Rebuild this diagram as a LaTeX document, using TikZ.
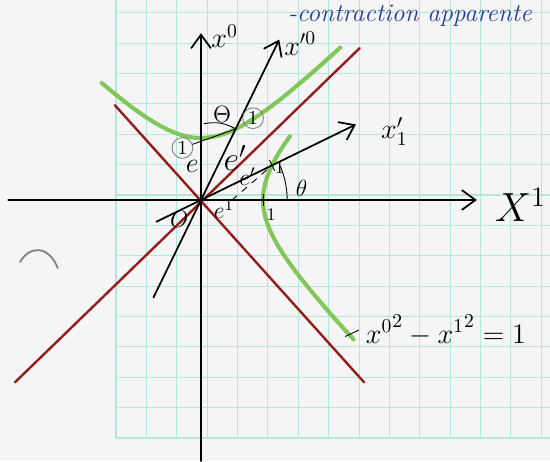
\documentclass[tikz,border=0pt]{standalone}
\usetikzlibrary{arrows.meta}
\definecolor{paper}{RGB}{245,245,247}
\definecolor{gridmint}{RGB}{180,232,214}
\definecolor{conered}{RGB}{150,28,28}
\definecolor{hypgreen}{RGB}{112,192,64}
\definecolor{inkblue}{RGB}{38,58,150}
\begin{document}
\begin{tikzpicture}[line join=round, line cap=round, >={Straight Barb[length=2.2mm,width=3.2mm]}, thick]
	\tikzset{every node/.style={scale=0.9},
		cone/.style={conered, line width=1.1pt},
		hyp/.style={hypgreen, line width=1.9pt, opacity=0.85},
		ring/.style={circle, draw=gray, thin, inner sep=0.8pt}}
	\useasboundingbox[fill=paper] (-3.242,-4.21) rectangle (5.629,3.226);
	% papier quadrille
	\draw[gridmint, line width=0.5pt, shift={(-1.371,-3.839)}, step=0.49] (0,0) grid (7,7.07);
	\draw[gridmint, line width=1pt] (-1.371,3.226) |- (5.629,-3.839);
	\draw[gray, thick] (-2.92,-1.0) .. controls (-2.75,-0.72) and (-2.45,-0.74) .. (-2.31,-1.1);
	% cone de lumiere
	\draw[cone] (-3.0,-2.94) -- (2.56,2.45);
	\draw[cone] (-1.39,1.53) -- (2.63,-2.94);
	% hyperbole
	\draw[hyp, samples=80, domain=-1.25:1.55, variable=\t] plot ({sinh(\t)},{cosh(\t)});
	\draw[hyp, samples=80, domain=-1.55:0.9, variable=\t] plot ({cosh(\t)},{sinh(\t)});
	% axes
	\coordinate (O) at (0,0);
	\coordinate (U1) at (1,0);
	\coordinate (P0) at (0.559,1.146);
	\coordinate (P1) at (1.146,0.559);
	\draw[->] (-3.11,0) -- (4.45,0);
	\draw[->] (0,-4.21) -- (0,2.69);
	\draw[->] (244:1.75) -- (64:2.88);
	\draw[->] (206:0.8) -- (26:2.78);
	\node[font=\huge] (X1) at (5.15,-0.08) {$X^1$};
	\node[font=\Large] (X0) at (0.38,2.64) {$x^0$};
	\node[font=\Large] (X0p) at (1.6,2.52) {$x'^{0}$};
	\node[font=\Large] (X1p) at (3.12,1.1) {$x'_1$};
	\foreach \p/\a in {U1/90,P1/116}
		\draw[thin] (\p) ++(\a:0.09) -- ++({\a+180}:0.18);
	\draw[dashed,thin] (0.5,0) -- (P1);
	% angles
	\draw[thin] (1.39,0) arc[start angle=0, end angle=23, radius=1.39];
	\draw[thin] (0.05,1.23) to[bend left=20] (P0);
	\node[font=\large] (th) at (1.62,0.19) {$\theta$};
	\node[font=\large] (Th) at (0.34,1.38) {$\Theta$};
	% unites
	\node[ring, font=\normalsize] (oneA) at (0.84,1.32) {1};
	\node[ring, font=\normalsize] (oneB) at (-0.3,0.84) {1};
	\draw[thin] (oneB) -- (P0);
	\node[font=\small] (oneC) at (1.27,0.52) {1};
	\node[font=\small] (oneD) at (1.13,-0.24) {1};
	\node[font=\Large] (e0) at (-0.14,0.54) {$e$};
	\node[font=\LARGE] (e0p) at (0.55,0.68) {$e'$};
	\node[font=\large] (e1p) at (0.75,0.38) {$e'$};
	\node[font=\large] (e1) at (0.37,-0.15) {$e^1$};
	\node[font=\large] (o) at (-0.35,-0.32) {$O$};
	% legende
	\coordinate (H) at (2.33,-2.2);
	\node[font=\Large] (eq) at (3.95,-2.1) {${x^0}^2-{x^1}^2=1$};
	\draw[thin] (H) -- (eq.west);
	\node[font=\fontsize{13}{15}\selectfont\itshape, text=inkblue] (note) at (3.37,2.98) {-contraction apparente};
\end{tikzpicture}
\end{document}
